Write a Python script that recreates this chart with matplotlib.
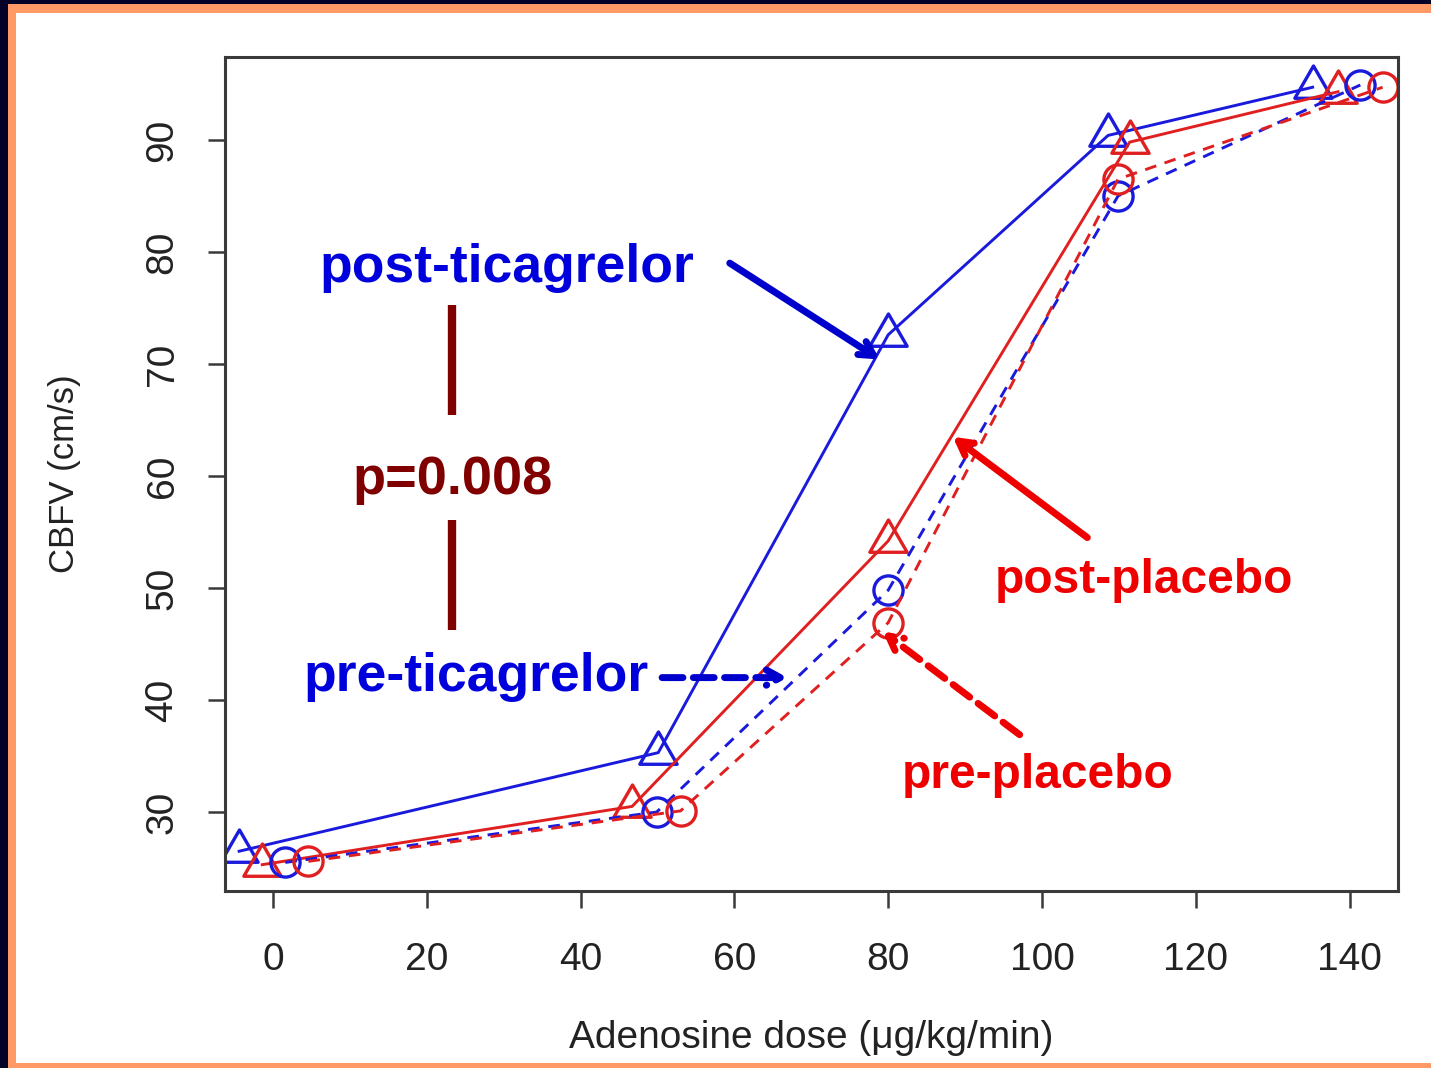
import matplotlib
matplotlib.use("Agg")
import matplotlib.pyplot as plt
from matplotlib.patches import Rectangle
from matplotlib.path import Path

# ---- data ----
post_tica_x = [-4.4, 50.1, 80.0, 108.6, 135.2]
post_tica_y = [26.5, 35.3, 72.6, 90.4, 94.7]
post_plac_x = [-1.4, 46.7, 80.0, 111.4, 138.5]
post_plac_y = [25.3, 30.5, 54.2, 89.8, 94.3]
pre_tica_x = [1.6, 49.9, 80.0, 109.9, 141.4]
pre_tica_y = [25.5, 30.0, 49.8, 85.0, 94.9]
pre_plac_x = [4.6, 53.0, 80.0, 109.9, 144.3]
pre_plac_y = [25.6, 30.1, 46.9, 86.5, 94.7]
xticks = [0, 20, 40, 60, 80, 100, 120, 140]
yticks = [30, 40, 50, 60, 70, 80, 90]

BLUE = "#1a1adc"
RED = "#e02020"
TBLUE = "#0000dd"
TRED = "#ee0000"
DRED = "#800000"

tri = Path([(0, 0.577), (-0.5, -0.289), (0.5, -0.289), (0, 0.577)],
           [Path.MOVETO, Path.LINETO, Path.LINETO, Path.CLOSEPOLY])

fig = plt.figure(figsize=(14.31, 10.68), dpi=100)
fig.patch.set_facecolor("#03032a")
W, H = 1431, 1068
fig.patches.append(Rectangle((8 / W, 0), 1 - 8 / W, 1 - 4 / H, transform=fig.transFigure,
                             facecolor="#ff9966", edgecolor="none", zorder=-2))
fig.patches.append(Rectangle((16 / W, 5 / H), 1 - 16 / W, 1 - 18 / H, transform=fig.transFigure,
                             facecolor="white", edgecolor="none", zorder=-1))

ax = fig.add_axes([225 / W, 1 - 891 / H, (1398 - 225) / W, (891 - 57) / H])
ax.set_facecolor("white")
ax.set_xlim(-6.24, 146.3)
ax.set_ylim(22.95, 97.4)

lw = 2.1
ax.plot(post_tica_x, post_tica_y, color=BLUE, lw=lw, marker=tri, ms=31, mfc="none", mew=2.4)
ax.plot(post_plac_x, post_plac_y, color=RED, lw=lw, marker=tri, ms=31, mfc="none", mew=2.4)
ax.plot(pre_tica_x, pre_tica_y, color=BLUE, lw=lw, ls=(0, (4, 3)), marker="o", ms=21, mfc="none", mew=2.4)
ax.plot(pre_plac_x, pre_plac_y, color=RED, lw=lw, ls=(0, (4, 3)), marker="o", ms=21, mfc="none", mew=2.4)

for s in ax.spines.values():
    s.set_color("#3a3a3a")
    s.set_linewidth(2.2)
ax.set_xticks(xticks)
ax.set_yticks(yticks)
ax.tick_params(axis="both", length=12, width=1.8, color="#3a3a3a", labelsize=28,
               labelcolor="#222222")
ax.tick_params(axis="x", pad=25)
ax.tick_params(axis="y", pad=20)
for lab in ax.get_yticklabels():
    lab.set_rotation(90)
    lab.set_va("center")
for lab in ax.get_xticklabels() + ax.get_yticklabels():
    lab.set_family("Liberation Sans")

ax.set_xlabel("Adenosine dose (\u03bcg/kg/min)", fontsize=28, family="Liberation Sans",
              color="#222222", labelpad=30)
ax.set_ylabel("CBFV (cm/s)", fontsize=25, family="Liberation Sans", color="#222222",
              labelpad=46)

tf = dict(family="Liberation Sans", fontweight="bold", va="center")
ax.text(6.1, 78.6, "post-ticagrelor", color=TBLUE, ha="left", fontsize=38.5, **tf)
ax.text(23.3, 59.6, "p=0.008", color=DRED, ha="center", fontsize=39, **tf)
ax.text(3.9, 42.05, "pre-ticagrelor", color=TBLUE, ha="left", fontsize=38.5, **tf)
ax.text(93.9, 50.7, "post-placebo", color=TRED, ha="left", fontsize=34.5, **tf)
ax.text(81.8, 33.3, "pre-placebo", color=TRED, ha="left", fontsize=34.5, **tf)

ax.plot([23.3, 23.3], [75.3, 65.4], color=DRED, lw=6, solid_capstyle="butt")
ax.plot([23.3, 23.3], [56.1, 46.25], color=DRED, lw=6, solid_capstyle="butt")

def arrow(x0, y0, x1, y1, color, ls="-"):
    ax.annotate("", xy=(x1, y1), xytext=(x0, y0),
                arrowprops=dict(arrowstyle="->,head_length=1.0,head_width=0.55",
                                color=color, lw=5, linestyle=ls,
                                shrinkA=0, shrinkB=0))

arrow(59.4, 79.0, 78.9, 70.4, "#0000cc")
arrow(50.6, 42.0, 66.9, 42.0, "#0000cc", ls=(0, (3, 1.5)))
arrow(105.9, 54.5, 88.4, 63.5, TRED)
arrow(97.1, 36.9, 79.3, 46.1, TRED, ls=(0, (3, 1.5)))

fig.savefig("out.png", dpi=100, facecolor=fig.get_facecolor())
